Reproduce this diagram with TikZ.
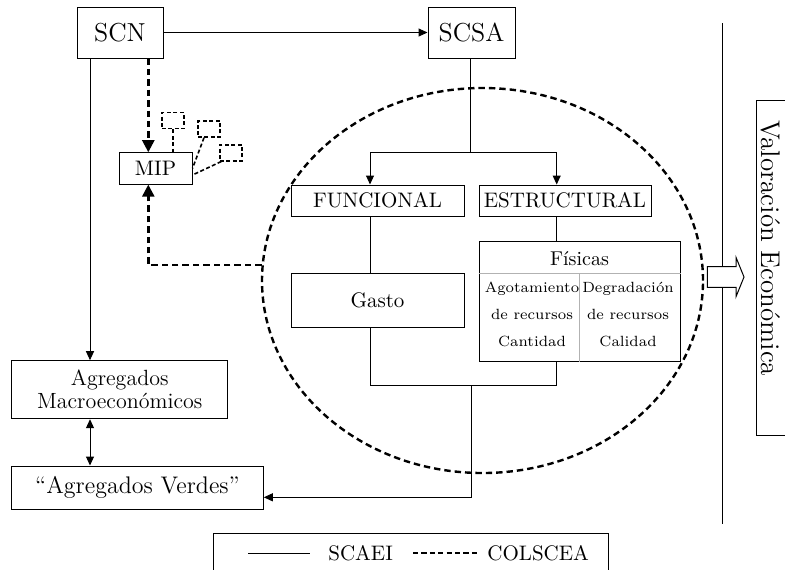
\documentclass[tikz,border=0pt]{standalone}
\usepackage{fontspec}
\usetikzlibrary{arrows.meta}
\usetikzlibrary{shapes.geometric}
\usetikzlibrary{calc}

\begin{document}
\begin{tikzpicture}[x=0.5pt, y=-0.5pt, >={Triangle[length=4.5pt,width=4pt]},
    caja/.style = {draw, line width=0.5pt, inner sep=0pt, align=center},
    cajita/.style = {draw, line width=0.7pt, dash pattern=on 2pt off 1.2pt, minimum width=11pt, minimum height=8pt, inner sep=0pt},
    punteada/.style = {line width=1.2pt, dash pattern=on 3.2pt off 2pt},
    flechagrande/.style = {-{Triangle[length=6pt,width=6pt]}},
    linea/.style = {line width=0.5pt}]

    \useasboundingbox (0,0) rectangle (785,569);

    % ellipse behind the boxes
    \node[punteada, draw, ellipse, minimum width=220.5pt, minimum height=192.5pt] (ell) at (482.5,280.5) {};

    % main boxes
    \node[caja, minimum width=43pt, minimum height=25.5pt, font=\fontsize{13}{15}\selectfont] (scn) at (120,32.5) {SCN};
    \node[caja, minimum width=43.5pt, minimum height=25.5pt, font=\fontsize{13}{15}\selectfont] (scsa) at (471.5,32.5) {SCSA};
    \node[caja, minimum width=36.5pt, minimum height=15.7pt, font=\fontsize{10.5}{12}\selectfont] (mip) at (155.5,168.4) {MIP};
    \node[cajita] (b1) at (173,120.7) {};
    \node[cajita] (b2) at (209,129) {};
    \node[cajita] (b3) at (231,152.8) {};

    \node[caja, fill=white, minimum width=86.5pt, minimum height=15.5pt, font=\fontsize{10.5}{12}\selectfont] (func) at (377.5,200.5) {FUNCIONAL};
    \node[caja, fill=white, minimum width=86pt, minimum height=15.5pt, font=\fontsize{10.5}{12}\selectfont] (estr) at (565,200.5) {ESTRUCTURAL};
    \node[caja, fill=white, minimum width=86.5pt, minimum height=27pt, font=\fontsize{10.5}{12}\selectfont] (gasto) at (377.5,300.3) {Gasto};
    \node[caja, fill=white, minimum width=100.5pt, minimum height=60pt] (fis) at (579.5,301) {};
    \node[font=\fontsize{10}{12}\selectfont] (fistit) at (579.5,258.3) {Físicas};
    \node[align=center, font=\fontsize{7.4}{13.5}\selectfont] (agot) at (532,314.5) {Agotamiento\\de recursos\\Cantidad};
    \node[align=center, font=\fontsize{7.4}{13.5}\selectfont] (degr) at (628,314.5) {Degradación\\de recursos\\Calidad};

    \node[caja, minimum width=108pt, minimum height=29pt, font=\fontsize{11}{11.5}\selectfont] (macro) at (119.7,389.7) {Agregados\\Macroeconómicos};
    \node[caja, minimum width=125.8pt, minimum height=21.5pt, font=\fontsize{12}{14}\selectfont] (verdes) at (137.5,487.5) {``Agregados Verdes''};

    % valoracion box and its text
    \draw[linea] (800,100) -| (756.7,435) -- (800,435);
    \node[rotate=-90, font=\fontsize{13.5}{15}\selectfont] (valor) at (771,248) {Valoración Económica};

    % legend
    \node[caja, anchor=north west, minimum width=197.8pt, minimum height=30pt] (leyenda) at (212.7,533.3) {};
    \node[anchor=west, inner sep=0pt, font=\fontsize{10.5}{13}\selectfont] (scaei) at (328,553.3) {SCAEI};
    \node[anchor=west, inner sep=0pt, font=\fontsize{10.5}{13}\selectfont] (colscea) at (487,553.3) {COLSCEA};
    \coordinate (la) at (248.3,553.3);
    \coordinate (lb) at (310,553.3);
    \coordinate (lc) at (413,553.3);
    \coordinate (ld) at (478,553.3);
    \draw[linea] (la) -- (lb);
    \draw[line width=1pt, dash pattern=on 2.6pt off 1.6pt] (lc) -- (ld);

    % helper coordinates
    \coordinate (lft) at (90,0);
    \coordinate (mx) at (148.3,0);
    \coordinate (cf) at (370,0);
    \coordinate (ce) at (556.7,0);
    \coordinate (split) at (470.7,152.7);
    \coordinate (join) at (471,385);
    \coordinate (fisdiv) at (579.3,273.3);

    % solid connectors
    \draw[linea, ->] (scn.east) -- (scsa.west);
    \draw[linea, ->] (scn.south -| lft) -- (macro.north -| lft);
    \draw[linea, <->] (macro.south -| lft) -- (verdes.north -| lft);
    \draw[linea] (scsa.south -| split) -- (split);
    \draw[linea, ->] (split) -| (func.north -| cf);
    \draw[linea, ->] (split) -| (estr.north -| ce);
    \draw[linea] (func.south -| cf) -- (gasto.north -| cf);
    \draw[linea] (estr.south -| ce) -- (fis.north -| ce);
    \draw[linea] (gasto.south -| cf) |- (join -| ce) -- (fis.south -| ce);
    \draw[linea, ->] (join) |- ([yshift=-4.9pt]verdes.east);

    % inner lines of Fisicas
    \draw[gray!60, line width=0.6pt] (fisdiv -| fis.west) -- (fisdiv -| fis.east);
    \draw[gray!60, line width=0.6pt] (fisdiv) -- (fisdiv |- fis.south);

    % dashed connectors
    \draw[punteada, flechagrande] (scn.south -| mx) -- (mip.north -| mx);
    \draw[punteada, flechagrande] (ell.176) -| (mip.south -| mx);
    \draw[line width=0.8pt, dash pattern=on 2pt off 1.2pt] (b1.south) -- (b1.south |- mip.north);
    \draw[line width=0.8pt, dash pattern=on 2pt off 1.2pt] ([xshift=-2.5pt]b2.south) -- (mip.east);
    \draw[line width=0.8pt, dash pattern=on 2pt off 1.2pt] ([xshift=1pt]b3.south west) -- ([yshift=-3.3pt]mip.east);

    % right side
    \coordinate (vtop) at (722.5,23);
    \coordinate (vbot) at (722.5,524);
    \draw[linea] (vtop) -- (vbot);
    \draw[linea, fill=white] (707.3,266.7) -- (736,266.7) -- (736,257.3) -- (744,277)
        -- (736,296.7) -- (736,287.3) -- (707.3,287.3) -- cycle;

\end{tikzpicture}
\end{document}
